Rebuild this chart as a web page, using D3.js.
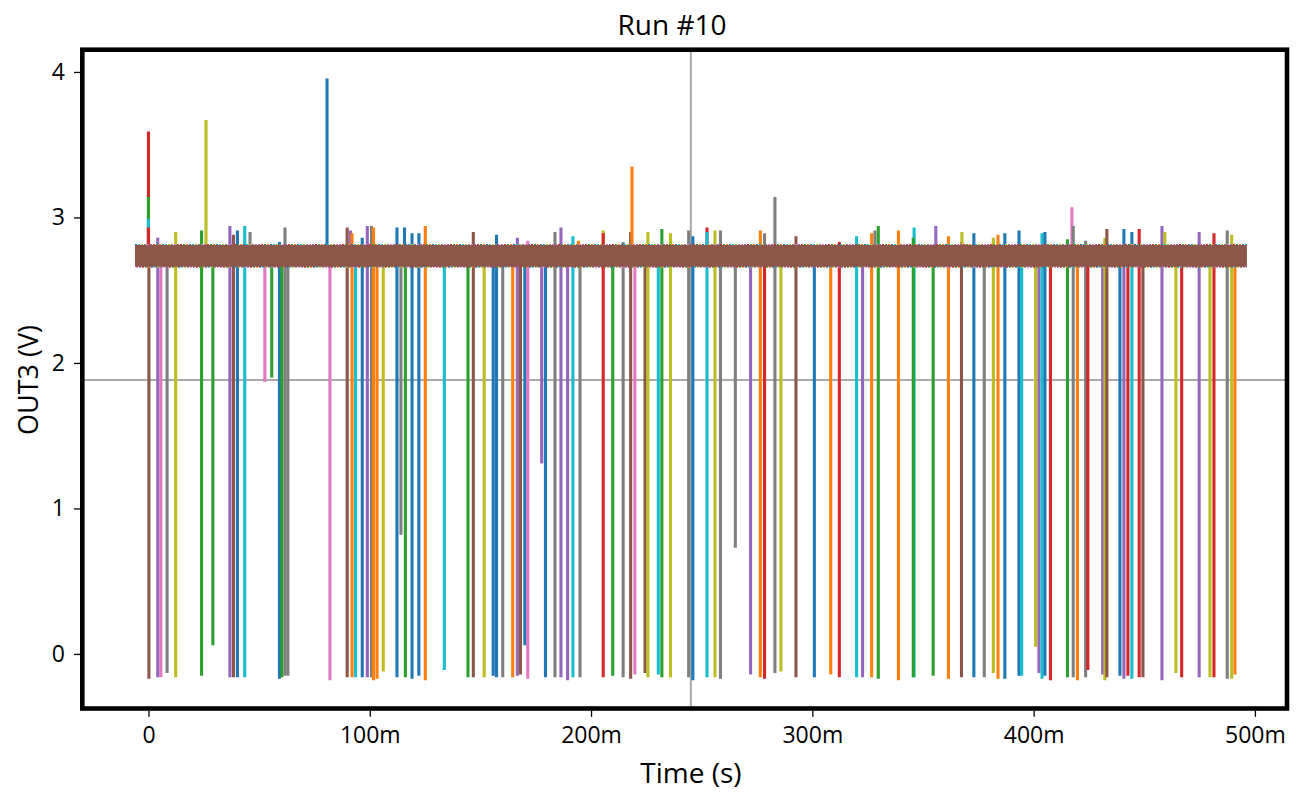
<!DOCTYPE html>
<html>
<head>
<meta charset="utf-8">
<script src="https://cdn.jsdelivr.net/npm/d3@7"></script>
<style>
  body { margin: 0; background: #fff; }
  text { font-family: "Open Sans", "Noto Sans", sans-serif; fill: #000; }
</style>
</head>
<body>
<div id="chart"></div>
<script>
// --- data (time in ms, volts) ---
const spikeTime = [0, 0, 0, 0, 0.2, 4.2, 5.6, 8.4, 12.3, 24.0, 26.0, 29.1, 36.8, 38.4, 40.2, 43.5, 45.9, 52.6, 55.7,
  59.2, 60.3, 61.7, 63.0, 80.7, 82.0, 89.8, 91.3, 92.0, 93.6, 96.6, 98.9, 100.8, 101.7, 103.3, 106.1, 112.3, 114.1,
  115.7, 116.1, 119.1, 122.2, 125.1, 133.7, 144.4, 146.8, 151.7, 155.8, 157.3, 160.1, 164.6, 166.7, 168.1, 170.1,
  171.4, 177.7, 179.4, 183.7, 186.4, 189.4, 191.8, 194.3, 195.0, 205.5, 205.5, 209.8, 214.5, 217.9, 218.5, 219.8,
  224.4, 225.7, 230.4, 232.0, 235.9, 244.1, 246.0, 252.4, 252.4, 256.0, 258.5, 265.2, 272.1, 276.5, 278.4, 278.4,
  283.1, 285.8, 292.6, 300.9, 308.3, 312.2, 320.0, 322.7, 326.8, 328.3, 329.8, 338.9, 346.0, 345.6, 354.6, 355.8,
  361.5, 367.4, 367.6, 373.0, 377.7, 381.8, 383.9, 387.0, 393.4, 394.6, 400.9, 402.4, 403.8, 405.1, 407.6, 415.3,
  417.3, 417.9, 419.8, 423.5, 424.5, 431.2, 432.2, 433.1, 439.0, 440.8, 440.8, 442.6, 444.4, 444.4, 447.7, 449.4,
  458.0, 459.3, 464.3, 466.9, 474.8, 479.7, 481.5, 487.5, 489.5, 491.0];
const spikeLow = [2.72, 2.72, 2.72, 2.72, -0.16, -0.15, -0.15, -0.12, -0.15, -0.14, 2.72, 0.07, -0.15, -0.15, -0.15, -0.15, 2.72, 1.88, 1.91,
  -0.16, -0.15, -0.14, -0.14, 2.72, -0.17, -0.15, 2.72, -0.15, -0.15, -0.15, -0.15, -0.15, -0.17, -0.16, -0.11, -0.15, 0.83,
  2.72, -0.15, -0.16, -0.14, -0.17, -0.10, -0.15, -0.15, -0.15, -0.14, -0.15, -0.15, -0.15, -0.14, -0.13, 0.07,
  -0.16, 1.32, -0.15, -0.15, -0.15, -0.17, -0.15, 2.72, -0.15, 2.72, -0.15, -0.14, -0.15, -0.16, 2.72, -0.13,
  -0.12, -0.15, -0.13, -0.15, -0.15, -0.15, -0.17, 2.72, -0.15, -0.15, -0.16, 0.74, -0.13, -0.15, 2.72, -0.16,
  -0.12, -0.11, -0.15, -0.15, -0.13, -0.15, -0.15, -0.15, -0.15, 2.72, -0.16, -0.17, -0.15, -0.15, -0.14, 2.72,
  -0.16, -0.15, 2.72, -0.15, -0.15, -0.12, -0.16, -0.16, -0.14, -0.14, 0.06, -0.12, -0.16, -0.14, -0.17, -0.15,
  2.72, -0.15, -0.17, -0.15, -0.10, -0.13, -0.17, -0.15, -0.14, 2.72, -0.16, -0.14, 2.72, -0.16, -0.15, -0.15,
  -0.17, 2.72, -0.12, -0.15, -0.15, -0.15, -0.15, -0.16, -0.16, -0.13];
const spikeHigh = [3.58, 3.13, 2.98, 2.92, 2.72, 2.85, 2.72, 2.72, 2.89, 2.90, 3.66, 2.72, 2.93, 2.87, 2.90, 2.93, 2.89, 2.72, 2.72,
  2.82, 2.72, 2.92, 2.72, 3.945, 2.72, 2.92, 2.90, 2.88, 2.72, 2.85, 2.93, 2.93, 2.92, 2.72, 2.72, 2.92, 2.72,
  2.92, 2.72, 2.88, 2.88, 2.93, 2.72, 2.72, 2.89, 2.72, 2.72, 2.87, 2.72, 2.72, 2.85, 2.72, 2.72,
  2.83, 2.72, 2.72, 2.89, 2.92, 2.72, 2.86, 2.83, 2.72, 2.90, 2.88, 2.72, 2.82, 2.89, 3.34, 2.72,
  2.72, 2.89, 2.72, 2.91, 2.88, 2.90, 2.86, 2.92, 2.89, 2.90, 2.90, 2.72, 2.72, 2.90, 2.88, 2.72,
  3.13, 2.72, 2.86, 2.72, 2.72, 2.82, 2.86, 2.72, 2.88, 2.90, 2.93, 2.90, 2.92, 2.85, 2.72, 2.93,
  2.86, 2.82, 2.89, 2.88, 2.72, 2.85, 2.87, 2.88, 2.90, 2.72, 2.72, 2.72, 2.88, 2.89, 2.72, 2.84,
  3.06, 2.93, 2.72, 2.83, 2.72, 2.72, 2.85, 2.91, 2.72, 2.91, 2.72, 2.72, 2.89, 2.72, 2.91, 2.72,
  2.93, 2.89, 2.72, 2.72, 2.89, 2.72, 2.88, 2.90, 2.87, 2.72];
const spikeColor = [3, 2, 9, 3, 5, 4, 6, 7, 8, 2, 8, 2, 4, 5, 0, 9, 7, 6, 2,
  0, 2, 7, 7, 0, 6, 5, 4, 1, 9, 0, 4, 7, 1, 1, 8, 0, 7,
  0, 2, 0, 0, 1, 9, 2, 5, 8, 0, 0, 7, 1, 4, 5, 0,
  6, 4, 0, 7, 4, 4, 9, 1, 7, 8, 3, 2, 7, 5, 1, 6,
  5, 8, 9, 2, 8, 7, 0, 3, 9, 8, 7, 7, 4, 1, 7, 3,
  7, 8, 5, 0, 1, 3, 9, 4, 1, 7, 2, 1, 9, 2, 2, 4,
  1, 5, 8, 0, 7, 8, 1, 0, 0, 9, 8, 4, 9, 0, 3, 2,
  6, 7, 1, 7, 3, 4, 8, 5, 0, 0, 4, 3, 0, 9, 3, 5,
  4, 8, 8, 3, 4, 8, 3, 7, 8, 1];

// steady level of all runs (last trace drawn on top)
const bandStart = -6.1, bandEnd = 496.4;
const bandLow = 2.662, bandHigh = 2.81;
const bandColor = 5;
const edgeColors = [0, 1, 2, 3, 4, 6, 7, 8, 9];

const xTicks = [0, 100, 200, 300, 400, 500];
const xTickLabels = ["0", "100m", "200m", "300m", "400m", "500m"];
const yTicks = [0, 1, 2, 3, 4];

const cursorTime = 245.1;
const cursorVolt = 1.883;

// --- setup ---
const width = 1301, height = 794;
const frame = { left: 82.3, right: 1287, top: 49.7, bottom: 708.5 };

const svg = d3.select("#chart").append("svg")
  .attr("width", width)
  .attr("height", height);

const x = d3.scaleLinear().domain([-29.9, 514.5]).range([frame.left, frame.right]);
const y = d3.scaleLinear().domain([-0.375, 4.153]).range([frame.bottom, frame.top]);
const color = d3.schemeCategory10;

svg.append("defs").append("clipPath").attr("id", "clip")
  .append("rect")
  .attr("x", frame.left).attr("y", frame.top)
  .attr("width", frame.right - frame.left)
  .attr("height", frame.bottom - frame.top);

const plot = svg.append("g").attr("clip-path", "url(#clip)");

// cursor lines (underneath the traces)
plot.append("line")
  .attr("x1", x(cursorTime)).attr("x2", x(cursorTime))
  .attr("y1", frame.top).attr("y2", frame.bottom)
  .attr("stroke", "#aaaaaa").attr("stroke-width", 2);
plot.append("line")
  .attr("x1", frame.left).attr("x2", frame.right)
  .attr("y1", y(cursorVolt)).attr("y2", y(cursorVolt))
  .attr("stroke", "#aaaaaa").attr("stroke-width", 2);

// spikes
const line = d3.line().x(d => x(d[0])).y(d => y(d[1]));
plot.selectAll("path.spike")
  .data(spikeTime.map((t, i) => ({ t, lo: spikeLow[i], hi: spikeHigh[i], c: spikeColor[i] })))
  .enter()
  .append("path")
  .attr("class", "spike")
  .attr("d", d => line([[d.t, d.lo], [d.t, d.hi]]))
  .attr("fill", "none")
  .attr("stroke", d => color[d.c])
  .attr("stroke-width", 3.1)
  .attr("stroke-linecap", "square");

// noise speckles at the band edges
edgeColors.forEach((c, i) => {
  [bandLow, bandHigh].forEach(v => {
    plot.append("path")
      .attr("d", line([[bandStart, v], [bandEnd, v]]))
      .attr("fill", "none")
      .attr("stroke", color[c])
      .attr("stroke-width", 2.4)
      .attr("stroke-dasharray", "2,25")
      .attr("stroke-dashoffset", i * 3 + (v === bandLow ? 11 : 0));
  });
});

// the steady level band
plot.append("path")
  .attr("d", d3.area().x(d => x(d)).y0(y(bandLow)).y1(y(bandHigh))([bandStart, bandEnd]))
  .attr("fill", color[bandColor]);

// frame
svg.append("rect")
  .attr("x", frame.left).attr("y", frame.top)
  .attr("width", frame.right - frame.left)
  .attr("height", frame.bottom - frame.top)
  .attr("fill", "none")
  .attr("stroke", "#000")
  .attr("stroke-width", 4.6);

// axes
const xAxis = svg.append("g")
  .attr("transform", `translate(0,${frame.bottom + 2.3})`)
  .call(d3.axisBottom(x).tickValues(xTicks).tickFormat((d, i) => xTickLabels[i]).tickSize(6).tickPadding(10));
const yAxis = svg.append("g")
  .attr("transform", `translate(${frame.left - 2.3},0)`)
  .call(d3.axisLeft(y).tickValues(yTicks).tickFormat(d3.format("d")).tickSize(6).tickPadding(9));

[xAxis, yAxis].forEach(g => {
  g.select(".domain").remove();
  g.selectAll(".tick line").attr("stroke", "#000").attr("stroke-width", 1.3);
  g.selectAll(".tick text").attr("font-size", 23).attr("font-family", "Open Sans");
});

// titles
svg.append("text")
  .attr("x", 672).attr("y", 35)
  .attr("text-anchor", "middle")
  .attr("font-size", 28)
  .text("Run #10");

svg.append("text")
  .attr("x", 691).attr("y", 783)
  .attr("text-anchor", "middle")
  .attr("font-size", 28)
  .text("Time (s)");

svg.append("text")
  .attr("transform", `translate(38,380) rotate(-90)`)
  .attr("text-anchor", "middle")
  .attr("font-size", 27)
  .text("OUT3 (V)");
</script>
</body>
</html>
